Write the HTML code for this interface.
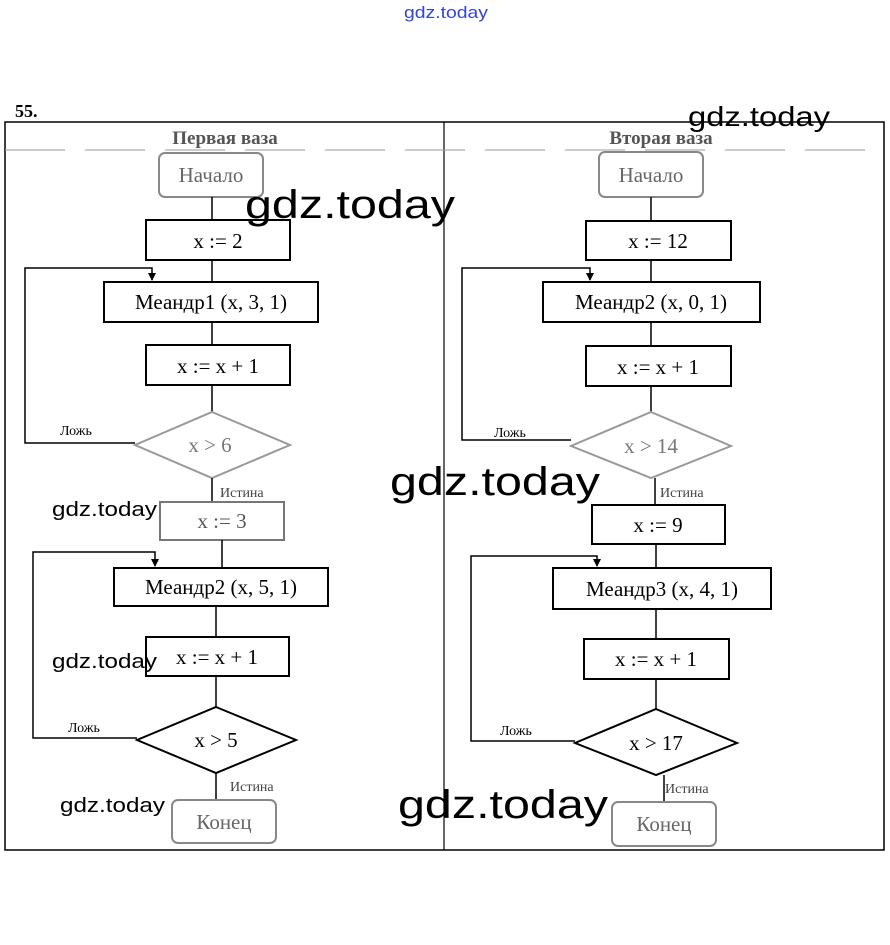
<!DOCTYPE html>
<html><head><meta charset="utf-8"><style>
html,body{margin:0;padding:0;background:#fff;width:890px;height:945px;overflow:hidden}
</style></head><body>
<svg width="890" height="945" viewBox="0 0 890 945" xmlns="http://www.w3.org/2000/svg">
<defs><marker id="a" markerWidth="8" markerHeight="8" refX="4" refY="7" orient="0" markerUnits="userSpaceOnUse"><path d="M0,0 L8,0 L4,8 z" fill="#000"/></marker></defs>
<g font-family="Liberation Serif, serif" fill="none" stroke="#000" stroke-width="2">
<rect x="5" y="122" width="879" height="728" stroke-width="1.5"/>
<line x1="444" y1="122" x2="444" y2="850" stroke-width="1.2"/>
<line x1="5" y1="150" x2="884" y2="150" stroke="#999" stroke-width="1" stroke-dasharray="60,20"/>
<rect x="159" y="153" width="104" height="44" rx="6" stroke="#888"/>
<line x1="212" y1="197" x2="212" y2="220" stroke-width="1.5"/>
<rect x="146" y="220" width="144" height="40"/>
<line x1="212" y1="260" x2="212" y2="282" stroke-width="1.5"/>
<rect x="104" y="282" width="214" height="40"/>
<line x1="212" y1="322" x2="212" y2="345" stroke-width="1.5"/>
<rect x="146" y="345" width="144" height="40"/>
<line x1="212" y1="385" x2="212" y2="412" stroke-width="1.5"/>
<polygon points="212,412 290,445 212,478 135,445" stroke="#999"/>
<polyline points="135,443 25,443 25,268 152,268 152,280" stroke-width="1.5" marker-end="url(#a)"/>
<line x1="212" y1="478" x2="212" y2="502" stroke-width="1.5"/>
<rect x="160" y="502" width="124" height="38" stroke="#777"/>
<line x1="222" y1="540" x2="222" y2="568" stroke-width="1.5"/>
<polyline points="137,738 33,738 33,552 155,552 155,566" stroke-width="1.5" marker-end="url(#a)"/>
<rect x="114" y="568" width="214" height="38"/>
<line x1="216" y1="606" x2="216" y2="637" stroke-width="1.5"/>
<rect x="146" y="637" width="143" height="39"/>
<line x1="216" y1="676" x2="216" y2="707" stroke-width="1.5"/>
<polygon points="216,707 296,740 216,773 137,740"/>
<line x1="216" y1="773" x2="216" y2="800" stroke-width="1.5"/>
<rect x="172" y="800" width="104" height="43" rx="6" stroke="#888"/>
<rect x="599" y="152" width="104" height="45" rx="6" stroke="#888"/>
<line x1="651" y1="197" x2="651" y2="221" stroke-width="1.5"/>
<rect x="586" y="221" width="145" height="39"/>
<line x1="651" y1="260" x2="651" y2="282" stroke-width="1.5"/>
<rect x="543" y="282" width="217" height="40"/>
<line x1="651" y1="322" x2="651" y2="346" stroke-width="1.5"/>
<rect x="586" y="346" width="145" height="40"/>
<line x1="651" y1="386" x2="651" y2="412" stroke-width="1.5"/>
<polygon points="651,412 731,446 651,478 571,446" stroke="#999"/>
<polyline points="571,440 462,440 462,268 590,268 590,280" stroke-width="1.5" marker-end="url(#a)"/>
<line x1="655" y1="478" x2="655" y2="505" stroke-width="1.5"/>
<rect x="592" y="505" width="133" height="39"/>
<line x1="656" y1="544" x2="656" y2="568" stroke-width="1.5"/>
<polyline points="575,741 471,741 471,556 597,556 597,566" stroke-width="1.5" marker-end="url(#a)"/>
<rect x="553" y="568" width="218" height="41"/>
<line x1="656" y1="609" x2="656" y2="639" stroke-width="1.5"/>
<rect x="584" y="639" width="145" height="40"/>
<line x1="656" y1="679" x2="656" y2="709" stroke-width="1.5"/>
<polygon points="656,709 737,743 656,775 575,743"/>
<line x1="664" y1="775" x2="664" y2="802" stroke-width="1.5"/>
<rect x="612" y="802" width="104" height="44" rx="6" stroke="#888"/>
</g>
<g font-family="Liberation Serif, serif" fill="#000" text-anchor="middle" font-size="21">
<text x="225" y="144" font-weight="bold" font-size="19" fill="#555">Первая ваза</text>
<text x="661" y="144" font-weight="bold" font-size="19" fill="#555">Вторая ваза</text>
<text x="211" y="182" fill="#666">Начало</text>
<text x="218" y="248">x := 2</text>
<text x="211" y="309">Меандр1 (x, 3, 1)</text>
<text x="218" y="373">x := x + 1</text>
<text x="210" y="452" fill="#777">x &gt; 6</text>
<text x="222" y="528" fill="#555">x := 3</text>
<text x="221" y="594">Меандр2 (x, 5, 1)</text>
<text x="217" y="664">x := x + 1</text>
<text x="216" y="747">x &gt; 5</text>
<text x="224" y="829" fill="#666">Конец</text>
<text x="651" y="182" fill="#666">Начало</text>
<text x="658" y="248">x := 12</text>
<text x="651" y="309">Меандр2 (x, 0, 1)</text>
<text x="658" y="374">x := x + 1</text>
<text x="651" y="453" fill="#777">x &gt; 14</text>
<text x="658" y="532">x := 9</text>
<text x="662" y="596">Меандр3 (x, 4, 1)</text>
<text x="656" y="666">x := x + 1</text>
<text x="656" y="750">x &gt; 17</text>
<text x="664" y="831" fill="#666">Конец</text>
<g font-size="14" text-anchor="start">
<text x="60" y="435">Ложь</text>
<text x="220" y="497" fill="#444">Истина</text>
<text x="68" y="732">Ложь</text>
<text x="230" y="791" fill="#444">Истина</text>
<text x="494" y="437">Ложь</text>
<text x="660" y="497" fill="#444">Истина</text>
<text x="500" y="735">Ложь</text>
<text x="665" y="793" fill="#444">Истина</text>
</g>
<text x="15" y="117" font-weight="bold" font-size="18" text-anchor="start">55.</text>
</g>
<g font-family="Liberation Sans, sans-serif" fill="#000" lengthAdjust="spacingAndGlyphs">
<text x="404" y="18" font-size="17" textLength="84" lengthAdjust="spacingAndGlyphs" fill="#3344dd">gdz.today</text>
<text x="245" y="218" font-size="40" textLength="210" lengthAdjust="spacingAndGlyphs">gdz.today</text>
<text x="390" y="495" font-size="40" textLength="210" lengthAdjust="spacingAndGlyphs">gdz.today</text>
<text x="398" y="818" font-size="40" textLength="210" lengthAdjust="spacingAndGlyphs">gdz.today</text>
<text x="688" y="126" font-size="28" textLength="142" lengthAdjust="spacingAndGlyphs">gdz.today</text>
<text x="52" y="516" font-size="20" textLength="105" lengthAdjust="spacingAndGlyphs">gdz.today</text>
<text x="52" y="668" font-size="20" textLength="105" lengthAdjust="spacingAndGlyphs">gdz.today</text>
<text x="60" y="812" font-size="20" textLength="105" lengthAdjust="spacingAndGlyphs">gdz.today</text>
</g>
</svg>
</body></html>
